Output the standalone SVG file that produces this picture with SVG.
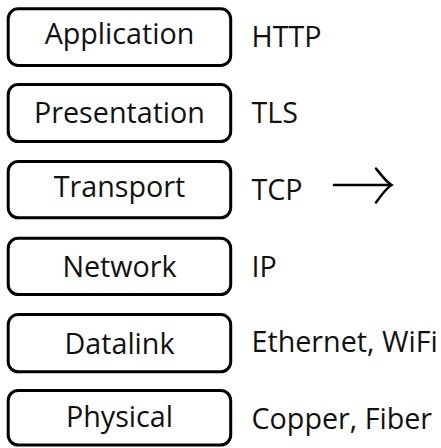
<svg xmlns="http://www.w3.org/2000/svg" width="441" height="448" viewBox="0 0 441 448">
<style>
.box{fill:#fff;stroke:#000;stroke-width:3}
.t{font-family:"Open Sans","Noto Sans",sans-serif;font-size:28.7px;fill:#111}
.c{text-anchor:middle}
.arr{fill:none;stroke:#000;stroke-width:2.5;stroke-linecap:round}
</style>
<rect width="441" height="448" fill="#fff"/>
<g id="application"><rect class="box" x="8.2" y="8.8" width="222.5" height="56.6" rx="10"/><text class="t c" x="119.5" y="44">Application</text></g>
<g id="presentation"><rect class="box" x="8.2" y="84.6" width="222.5" height="57" rx="10"/><text class="t c" x="119.5" y="123.3">Presentation</text></g>
<g id="transport"><rect class="box" x="8.2" y="161.4" width="222.5" height="56.4" rx="10"/><text class="t c" x="119.5" y="196.8">Transport</text></g>
<g id="network"><rect class="box" x="8.2" y="238.2" width="222.5" height="56.4" rx="10"/><text class="t c" x="119.5" y="276.7">Network</text></g>
<g id="datalink"><rect class="box" x="8.2" y="314.6" width="222.5" height="57.2" rx="10"/><text class="t c" x="119.5" y="354.3">Datalink</text></g>
<g id="physical"><rect class="box" x="8.2" y="390.5" width="222.5" height="54.5" rx="10"/><text class="t c" x="119.5" y="427.3">Physical</text></g>
<g id="labels">
<text class="t" x="251.5" y="46.7">HTTP</text>
<text class="t" x="251.5" y="123.3">TLS</text>
<text class="t" x="251.5" y="200">TCP</text>
<text class="t" x="251.5" y="276.7">IP</text>
<text class="t" x="251.5" y="352.3">Ethernet, WiFi</text>
<text class="t" x="251.5" y="429.3">Copper, Fiber</text>
</g>
<g id="connectors">
<path class="arr" d="M334,185 H391"/>
<path class="arr" d="M376,168.5 C382,176 386.5,182 391.5,185 C386.5,188 382,194 376,202.5"/>
</g>
</svg>
